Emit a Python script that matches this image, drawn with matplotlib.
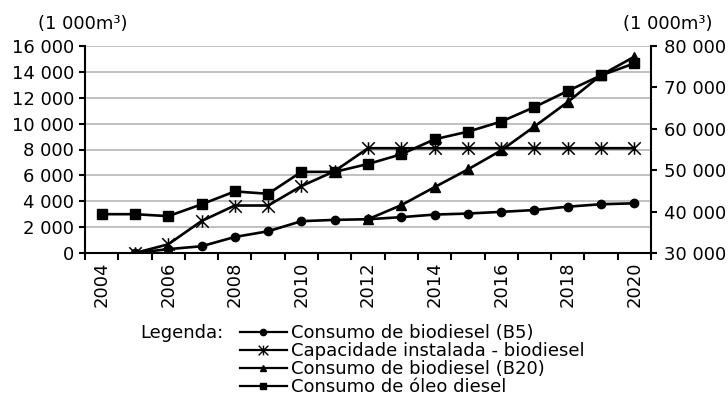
import numpy as np
import matplotlib.pyplot as plt
from matplotlib.path import Path
from matplotlib.lines import Line2D
from matplotlib.ticker import FuncFormatter, MultipleLocator

plt.rcParams['font.family'] = 'DejaVu Sans'
plt.rcParams['font.size'] = 13

nan = np.nan
years = list(range(2004, 2021))

# left axis (1 000 m3)
b5       = [nan, 0, 300, 520, 1240, 1680, 2460, 2560, 2610, 2770, 2970, 3050, 3180, 3320, 3580, 3770, 3840]
capacity = [nan, 0, 670, 2470, 3670, 3670, 5170, 6330, 8100, 8100, 8100, 8100, 8100, 8100, 8100, 8100, 8100]
b20      = [nan, nan, nan, nan, nan, nan, nan, nan, 2610, 3700, 5090, 6460, 7930, 9780, 11670, 13750, 15170]
# right axis (1 000 m3)
diesel   = [39375, 39375, 38900, 41750, 44875, 44300, 49600, 49600, 51500, 53840, 57470,
            59300, 61740, 65250, 69150, 72900, 75800]

labels = ['Consumo de biodiesel (B5)', 'Capacidade instalada - biodiesel',
          'Consumo de biodiesel (B20)', 'Consumo de óleo diesel']

# excel style star marker: an x with a vertical bar
star = Path([(-1, -1), (1, 1), (-1, 1), (1, -1), (0, -1), (0, 1)],
            [Path.MOVETO, Path.LINETO] * 3)

x = np.arange(len(years))
fmt = FuncFormatter(lambda v, p: f"{int(v):,}".replace(",", " "))

fig = plt.figure(figsize=(7.28, 4.09), dpi=100)
ax = fig.add_axes([85/728, 1 - 253/409, (651 - 85)/728, (253 - 46)/409])
ax2 = ax.twinx()

lw = 1.9
ax.plot(x, b5, color='black', lw=lw, marker='o', ms=6, zorder=3)
ax.plot(x, capacity, color='black', lw=lw, marker=star, ms=9, mew=1.1, mfc='none', zorder=3)
ax.plot(x, b20, color='black', lw=lw, marker='^', ms=7, zorder=3)
ax2.plot(x, diesel, color='black', lw=lw, marker='s', ms=6.5, zorder=3)

ax.set_xlim(-0.5, len(years) - 0.5)
ax.set_ylim(0, 16000)
ax.yaxis.set_major_locator(MultipleLocator(2000))
ax.yaxis.set_major_formatter(fmt)
ax2.set_ylim(30000, 80000)
ax2.yaxis.set_major_locator(MultipleLocator(10000))
ax2.yaxis.set_major_formatter(fmt)

ax.set_xticks(x[::2])
ax.set_xticklabels([str(y) for y in years[::2]], rotation=90)
ax.set_xticks(np.arange(-0.5, len(years)), minor=True)
ax.tick_params(axis='x', which='major', length=0, pad=6)
ax.tick_params(axis='x', which='minor', length=5, width=1.5, direction='out')
ax.tick_params(axis='y', length=4, width=1.5, pad=4)
ax2.tick_params(axis='y', length=4, width=1.5, pad=5)

ax.grid(axis='y', color='#b0b0b0', lw=1.1)
ax.set_axisbelow(True)
for s in ['top', 'right']:
    ax.spines[s].set_visible(False)
for s in ['top', 'left', 'bottom']:
    ax2.spines[s].set_visible(False)
ax.spines['left'].set_linewidth(1.5)
ax.spines['bottom'].set_linewidth(1.5)
ax2.spines['right'].set_linewidth(1.5)

fig.text(83/728, 1 - 24/409, '(1 000m³)', ha='center', va='center')
fig.text(668/728, 1 - 24/409, '(1 000m³)', ha='center', va='center')

# legend
handles = [Line2D([], [], color='black', lw=1.6, marker='o', ms=4.5),
           Line2D([], [], color='black', lw=1.6, marker=star, ms=7, mew=1, mfc='none'),
           Line2D([], [], color='black', lw=1.6, marker='^', ms=5),
           Line2D([], [], color='black', lw=1.6, marker='s', ms=4.5)]
fig.text(140/728, 1 - 333/409, 'Legenda:', ha='left', va='center')
fig.legend(handles, labels, loc='upper left', bbox_to_anchor=(240/728, 1 - 324/409),
           frameon=False, borderpad=0, borderaxespad=0, handlelength=2.6,
           handletextpad=0.2, labelspacing=0.0)

fig.savefig('out.png', dpi=100)
